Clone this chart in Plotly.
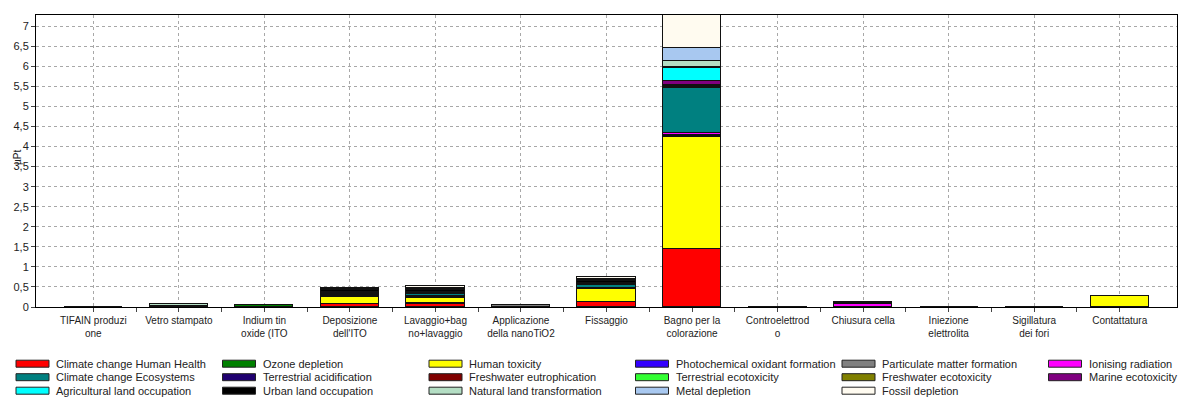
"""Stacked single-score chart (ReCiPe endpoint categories) per process step."""

import plotly.graph_objects as go

# categories on the x axis (process steps), wrapped like the original
steps = [
    "TIFAIN produzi<br>one",
    "Vetro stampato",
    "Indium tin<br>oxide (ITO",
    "Deposizione<br>dell'ITO",
    "Lavaggio+bag<br>no+lavaggio",
    "Applicazione<br>della nanoTiO2",
    "Fissaggio",
    "Bagno per la<br>colorazione",
    "Controelettrod<br>o",
    "Chiusura cella",
    "Iniezione<br>elettrolita",
    "Sigillatura<br>dei fori",
    "Contattatura",
]

# impact categories, in stacking order (bottom -> top)
impact_names = [
    "Climate change Human Health",
    "Ozone depletion",
    "Human toxicity",
    "Photochemical oxidant formation",
    "Particulate matter formation",
    "Ionising radiation",
    "Climate change Ecosystems",
    "Terrestrial acidification",
    "Freshwater eutrophication",
    "Terrestrial ecotoxicity",
    "Freshwater ecotoxicity",
    "Marine ecotoxicity",
    "Agricultural land occupation",
    "Urban land occupation",
    "Natural land transformation",
    "Metal depletion",
    "Fossil depletion",
]

impact_colors = [
    "#FF0000", "#008000", "#FFFF00", "#3300FF", "#808080", "#FF00FF",
    "#008080", "#200070", "#800000", "#33FF33", "#808000", "#800080",
    "#00FFFF", "#000000", "#B4DEC4", "#A8C8F0", "#FFFBF0",
]

# values in µPt, one list per impact category (13 steps each)
climate_hh = [0, 0, 0.005, 0.065, 0.08, 0, 0.125, 1.44, 0, 0.005, 0, 0, 0.005]
ozone = [0, 0, 0.045, 0.01, 0.01, 0, 0.01, 0.01, 0, 0, 0, 0, 0]
human_tox = [0, 0.005, 0, 0.18, 0.14, 0, 0.32, 2.80, 0, 0, 0, 0, 0.27]
photochem = [0, 0, 0, 0.01, 0.01, 0, 0.005, 0.02, 0, 0, 0, 0, 0]
particulate = [0, 0, 0, 0.01, 0.01, 0.055, 0.005, 0.03, 0, 0, 0, 0, 0]
ionising = [0, 0, 0, 0.015, 0.02, 0, 0.01, 0.04, 0, 0.06, 0, 0, 0]
climate_eco = [0, 0, 0, 0.02, 0.05, 0, 0.08, 1.12, 0, 0, 0, 0, 0]
terr_acid = [0, 0, 0, 0.015, 0.02, 0, 0.015, 0.02, 0, 0.005, 0, 0, 0]
fw_eutro = [0, 0, 0, 0.005, 0.01, 0, 0.01, 0.03, 0, 0, 0, 0, 0]
terr_ecotox = [0, 0, 0, 0.01, 0.005, 0, 0.005, 0.01, 0, 0, 0, 0, 0]
fw_ecotox = [0, 0.01, 0, 0.01, 0.01, 0, 0.005, 0.01, 0, 0, 0, 0, 0]
marine_ecotox = [0, 0, 0, 0.01, 0.01, 0, 0.01, 0.10, 0, 0.04, 0, 0, 0]
agri_land = [0, 0, 0, 0.005, 0.01, 0, 0.01, 0.32, 0, 0, 0, 0, 0]
urban_land = [0, 0, 0.005, 0.06, 0.05, 0.005, 0.05, 0.04, 0.008, 0.005, 0, 0.004, 0]
natural_land = [0, 0.06, 0, 0.005, 0.02, 0, 0.01, 0.15, 0, 0, 0, 0, 0]
metal = [0, 0.01, 0, 0.03, 0.03, 0, 0.02, 0.32, 0, 0, 0, 0, 0]
fossil = [0, 0, 0, 0.015, 0.05, 0, 0.06, 0.90, 0, 0, 0, 0, 0]

impact_values = [
    climate_hh, ozone, human_tox, photochem, particulate, ionising,
    climate_eco, terr_acid, fw_eutro, terr_ecotox, fw_ecotox, marine_ecotox,
    agri_land, urban_land, natural_land, metal, fossil,
]

y_ticks = [i * 0.5 for i in range(15)]

W, H = 1179, 398
M_L, M_R, M_T, M_B = 36, 2, 15, 91
PLOT_W = W - M_L - M_R
PLOT_H = H - M_T - M_B
FONT = "Liberation Sans"


def px_x(px: float) -> float:
    """Pixel x -> paper x."""
    return (px - M_L) / PLOT_W


def px_y(py: float) -> float:
    """Pixel y (from top) -> paper y."""
    return (H - M_B - py) / PLOT_H


x_pos = list(range(len(steps)))

fig = go.Figure()
for name, color, vals in zip(impact_names, impact_colors, impact_values):
    fig.add_trace(
        go.Bar(
            x=x_pos,
            y=vals,
            name=name,
            width=0.68,
            marker=dict(color=color, line=dict(color="#111111", width=1)),
            showlegend=False,
        )
    )

# hand-made legend: 6 entries per row, row-major like the original
shapes = []
annotations = []
for i, (name, color) in enumerate(zip(impact_names, impact_colors)):
    row, col = divmod(i, 6)
    x0 = 16 + 206.5 * col
    yc = 363.7 + 13.5 * row
    shapes.append(
        dict(
            type="rect", xref="paper", yref="paper",
            x0=px_x(x0), x1=px_x(x0 + 33),
            y0=px_y(yc + 3.5), y1=px_y(yc - 3.5),
            fillcolor=color, line=dict(color="#222222", width=1),
        )
    )
    annotations.append(
        dict(
            text=name, xref="paper", yref="paper",
            x=px_x(x0 + 38), y=px_y(yc), xanchor="left", yanchor="middle",
            showarrow=False, font=dict(family=FONT, size=11, color="#222222"),
        )
    )

# y axis title
annotations.append(
    dict(
        text="µPt", xref="paper", yref="paper", x=px_x(17), y=px_y(158),
        textangle=-90, showarrow=False, xanchor="center", yanchor="middle",
        font=dict(family=FONT, size=10, color="#222222"),
    )
)

fig.update_layout(
    width=W,
    height=H,
    barmode="stack",
    bargap=0,
    separators=",.",
    margin=dict(l=M_L, r=M_R, t=M_T, b=M_B),
    paper_bgcolor="white",
    plot_bgcolor="white",
    font=dict(family=FONT, size=10, color="#222222"),
    shapes=shapes,
    annotations=annotations,
    xaxis=dict(
        range=[-0.67, len(steps) - 0.33],
        tickmode="array",
        tickvals=x_pos,
        ticktext=steps,
        ticks="outside",
        ticklen=4,
        tickcolor="#444444",
        showgrid=True,
        gridcolor="#A8A8A8",
        griddash="3px,3px",
        gridwidth=1,
        showline=True,
        linecolor="#000000",
        linewidth=1,
        mirror=True,
        zeroline=False,
        tickfont=dict(family=FONT, size=10, color="#222222"),
        minor=dict(
            tickmode="array",
            tickvals=[p + 0.5 for p in x_pos[:-1]],
            ticks="outside",
            ticklen=4,
            tickcolor="#444444",
            showgrid=False,
        ),
    ),
    yaxis=dict(
        range=[0, 7.28],
        tickmode="array",
        tickvals=y_ticks,
        ticks="outside",
        ticklen=4,
        tickcolor="#444444",
        showgrid=True,
        gridcolor="#A8A8A8",
        griddash="3px,3px",
        gridwidth=1,
        showline=True,
        linecolor="#000000",
        linewidth=1,
        mirror=True,
        zeroline=False,
        tickfont=dict(family=FONT, size=11, color="#222222"),
    ),
)

# drop the default 8px page margin so the figure fills the window exactly
fig.write_html(
    "out.html",
    config={"displayModeBar": False},
    post_script="document.body.style.margin='0';document.body.style.overflow='hidden';",
)
